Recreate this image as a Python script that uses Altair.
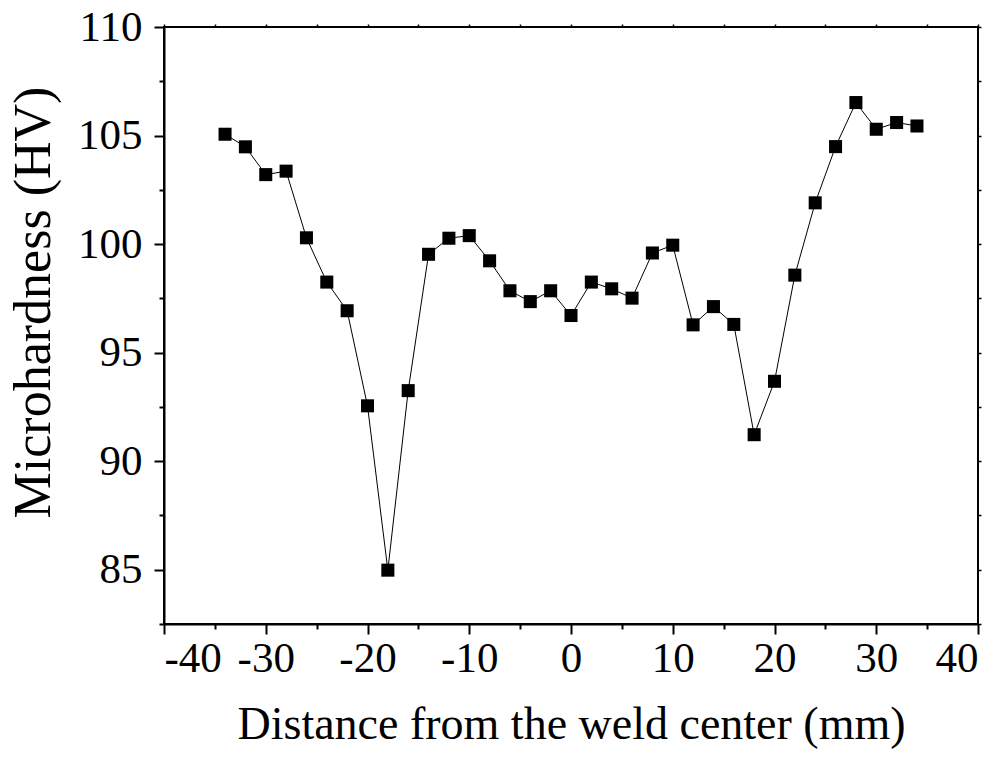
import altair as alt
import pandas as pd

distance = [-34, -32, -30, -28, -26, -24, -22, -20, -18, -16, -14, -12, -10, -8, -6, -4, -2,
            0, 2, 4, 6, 8, 10, 12, 14, 16, 18, 20, 22, 24, 26, 28, 30, 32, 34]
hardness = [105.06, 104.48, 103.2, 103.36, 100.29, 98.25, 96.93, 92.55, 84.98, 93.25, 99.53,
            100.27, 100.39, 99.23, 97.85, 97.35, 97.85, 96.71, 98.25, 97.94, 97.51, 99.59,
            99.95, 96.28, 97.12, 96.3, 91.22, 93.68, 98.57, 101.9, 104.49, 106.52, 105.29,
            105.6, 105.44]
x_ticks = [-40, -35, -30, -25, -20, -15, -10, -5, 0, 5, 10, 15, 20, 25, 30, 35, 40]
y_ticks = [82.5, 85, 87.5, 90, 92.5, 95, 97.5, 100, 102.5, 105, 107.5, 110]

df = pd.DataFrame({"d": distance, "h": hardness})

FONT = "Liberation Serif"
xs = alt.Scale(domain=[-40, 40], nice=False, zero=False)
ys = alt.Scale(domain=[82.5, 110], nice=False, zero=False)

X_LBL = "datum.value % 10 != 0 ? '' : (datum.value < 0 ? '-' + abs(datum.value) : '' + datum.value)"
Y_LBL = "datum.value % 5 != 0 ? '' : '' + datum.value"

x_axis = alt.Axis(orient="bottom", values=x_ticks,
                  tickSize={"condition": {"test": "datum.value % 10 == 0", "value": 10}, "value": 5},
                  tickWidth=2, domainWidth=2,
                  domainColor="black", tickColor="black", labelFont=FONT, labelFontSize=43,
                  labelColor="black", labelPadding=3, labelExpr=X_LBL, grid=False,
                  title="Distance from the weld center (mm)",
                  titleFont=FONT, titleFontSize=46, titleFontWeight="normal", titleColor="black",
                  titlePadding=22)
y_axis = alt.Axis(orient="left", values=y_ticks,
                  tickSize={"condition": {"test": "datum.value % 5 == 0", "value": 10}, "value": 5},
                  tickWidth=2, domainWidth=2,
                  domainColor="black", tickColor="black", labelFont=FONT, labelFontSize=43,
                  labelColor="black", labelPadding=12, labelExpr=Y_LBL, grid=False,
                  title="Microhardness (HV)",
                  titleFont=FONT, titleFontSize=52, titleFontWeight="normal", titleColor="black",
                  titleAngle=-90, titleBaseline="alphabetic", titleAlign="center",
                  titleX=-115, titleY=275)

base = alt.Chart(df)
line = base.mark_line(color="black", strokeWidth=1).encode(
    x=alt.X("d:Q", scale=xs, axis=x_axis),
    y=alt.Y("h:Q", scale=ys, axis=y_axis),
)
frame = base.mark_point(opacity=0).encode(
    x=alt.X("d:Q", scale=xs, axis=alt.Axis(values=x_ticks, tickSize=3, tickWidth=1.5,
                                            tickColor="black", labels=False, domain=False,
                                            grid=False, title=None)),
    y=alt.Y("h:Q", scale=ys, axis=alt.Axis(values=y_ticks, tickSize=3, tickWidth=1.5,
                                            tickColor="black", labels=False, domain=False,
                                            grid=False, title=None)),
)
pts = base.mark_point(shape="square", filled=True, color="black", size=170, opacity=1).encode(
    x=alt.X("d:Q", scale=xs, axis=None),
    y=alt.Y("h:Q", scale=ys, axis=None),
)

chart = alt.layer(line, frame, pts).resolve_axis(x="independent", y="independent").properties(
    width=814, height=597,
    autosize=alt.AutoSizeParams(type="none"),
    padding={"left": 164, "top": 27, "right": 26, "bottom": 137},
).configure_view(stroke="black", strokeWidth=2)

chart.save("out.html", embed_options={"renderer": "svg", "actions": False})
